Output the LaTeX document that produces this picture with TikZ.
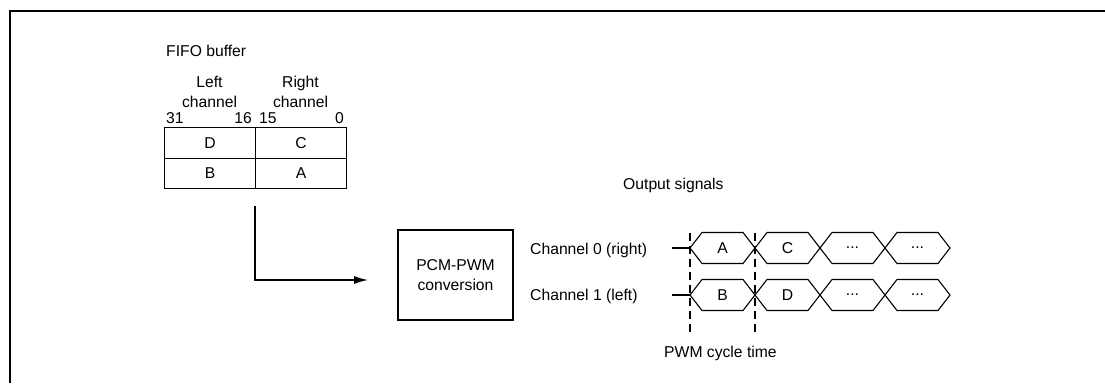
\documentclass[tikz,border=0pt]{standalone}
\usepackage{fontspec}
\setmainfont{Liberation Sans}
\usetikzlibrary{arrows.meta}
\newcommand\sigdots{...}
\tikzset{
  txt/.style={inner sep=0pt, font=\fontsize{15.7}{20}\selectfont},
  cell/.style={draw, line width=1.2pt, minimum width=91pt, minimum height=30.5pt, inner sep=0pt, anchor=north west, font=\fontsize{15.7}{20}\selectfont},
  sig/.style={line width=1.1pt, line join=miter},
  cyc/.style={line width=1.1pt, dash pattern=on 8pt off 5pt},
  flow/.style={line width=1.2pt, -{Latex[length=14pt,width=8pt]}},
}
\begin{document}
\begin{tikzpicture}[x=1pt,y=-1pt]
\useasboundingbox (0,0) rectangle (1105,383);
% frame (top and left only)
\draw[line width=2pt] (10,383) -- (10,11) -- (1105,11);
% FIFO
\node[txt, anchor=base west] (fifo) at (166,56) {FIFO buffer};
\node[txt, anchor=base, align=center] (lch) at (209.5,107) {Left\\channel};
\node[txt, anchor=base, align=center] (rch) at (300.5,107) {Right\\channel};
\node[txt, anchor=base west] (b31) at (166,123) {31};
\node[txt, anchor=base east] (b16) at (252,123) {16};
\node[txt, anchor=base west] (b15) at (259,123) {15};
\node[txt, anchor=base east] (b0) at (344,123) {0};
\node[cell] (D) at (164,127) {D};
\node[cell] (C) at (255,127) {C};
\node[cell] (B) at (164,157.5) {B};
\node[cell] (A) at (255,157.5) {A};
% PCM-PWM
\node[draw, line width=1.2pt, minimum width=115pt, minimum height=90pt, inner sep=0pt, align=center, txt] (pcm) at (455.5,275) {PCM-PWM\\conversion};
\coordinate (fstart) at (255,206);
\coordinate (fend) at (368,280);
\draw[flow] (fstart) |- (fend);
% output
\node[txt, anchor=base west] (out) at (623,189) {Output signals};
\node[txt, anchor=base west] (ch0) at (530,254) {Channel 0 (right)};
\node[txt, anchor=base west] (ch1) at (530,300) {Channel 1 (left)};
% signals
\foreach \r/\yc/\la/\lb in {0/248/A/C, 1/295/B/D}{
  \coordinate (lead\r) at (672,\yc);
  \coordinate (s\r) at (690,\yc);
  \draw[sig] (lead\r) -- (s\r);
  \foreach \i/\lab in {0/\la,1/\lb,2/\sigdots,3/\sigdots}{
    \pgfmathsetmacro{\xo}{690+65*\i}
    \draw[sig] (\xo,\yc) -- (\xo+12,\yc-15.5) -- (\xo+53,\yc-15.5) -- (\xo+65,\yc) -- (\xo+53,\yc+15.5) -- (\xo+12,\yc+15.5) -- cycle;
    \node[txt] (l\r\i) at (\xo+32.5,\yc) {\lab};
  }
}
\coordinate (d0t) at (690,233);
\coordinate (d0b) at (690,335);
\coordinate (d1t) at (755,233);
\coordinate (d1b) at (755,335);
\draw[cyc] (d0t) -- (d0b);
\draw[cyc] (d1t) -- (d1b);
\node[txt, anchor=base west] (pwm) at (664,357) {PWM cycle time};
\end{tikzpicture}
\end{document}
